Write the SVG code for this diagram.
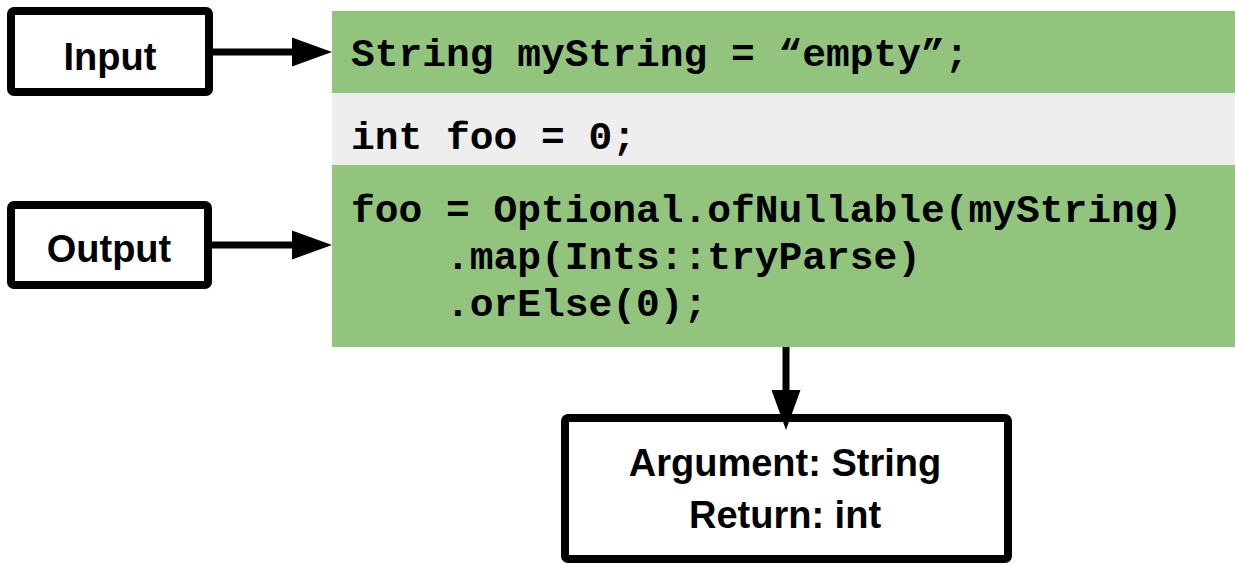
<svg xmlns="http://www.w3.org/2000/svg" width="1235" height="564" viewBox="0 0 1235 564">
<style>
.box{fill:#fff;stroke:#000;stroke-width:8}
.lbl{font-family:"Liberation Sans",Arial,sans-serif;font-weight:700;font-size:38px;fill:#000;text-anchor:middle}
.code{font-family:"Liberation Mono","Courier New",monospace;font-weight:700;font-size:39.6px;fill:#000}
.conn{stroke:#000;stroke-width:7;fill:none}
</style>
<defs>
<marker id="ah" markerUnits="userSpaceOnUse" markerWidth="40" markerHeight="29" refX="0" refY="14.5" orient="auto" overflow="visible">
<path d="M0,0 L40,14.5 L0,29 Z" fill="#000"/>
</marker>
</defs>
<rect width="1235" height="564" fill="#fff"/>
<g id="code-block">
<rect x="332" y="11" width="903" height="83" fill="#93C47D"/>
<rect x="332" y="93" width="903" height="72" fill="#EEEEEE"/>
<rect x="332" y="165" width="903" height="182" fill="#93C47D"/>
<text class="code" x="351" y="66">String myString = “empty”;</text>
<text class="code" x="351" y="149">int foo = 0;</text>
<text class="code" x="351" y="222">foo = Optional.ofNullable(myString)</text>
<text class="code" x="446" y="269">.map(Ints::tryParse)</text>
<text class="code" x="446" y="316">.orElse(0);</text>
</g>
<g id="input">
<rect class="box" x="11" y="11" width="198" height="81" rx="3"/>
<text class="lbl" x="110" y="70">Input</text>
</g>
<g id="output">
<rect class="box" x="11" y="205" width="197" height="80" rx="3"/>
<text class="lbl" x="109" y="262">Output</text>
</g>
<g id="signature">
<rect class="box" x="565" y="418" width="443" height="141" rx="3"/>
<text class="lbl" x="785" y="476">Argument: String</text>
<text class="lbl" x="785" y="528">Return: int</text>
</g>
<g id="connectors">
<line class="conn" x1="213" y1="52" x2="292" y2="52" marker-end="url(#ah)"/>
<line class="conn" x1="212" y1="245" x2="292" y2="245" marker-end="url(#ah)"/>
<line class="conn" x1="786" y1="347" x2="786" y2="390" marker-end="url(#ah)"/>
</g>
</svg>
